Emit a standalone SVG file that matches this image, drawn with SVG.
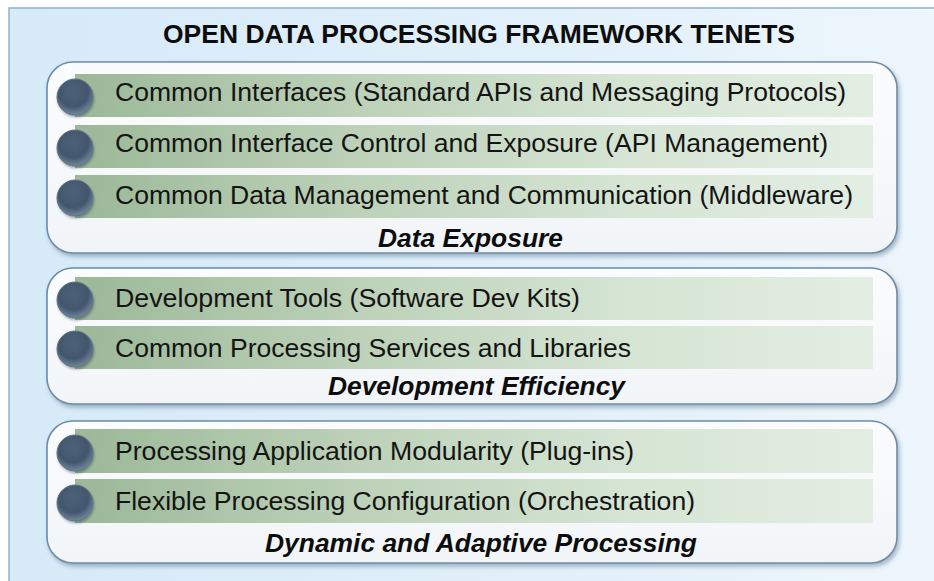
<svg xmlns="http://www.w3.org/2000/svg" width="934" height="581" viewBox="0 0 934 581">
<defs>
<linearGradient id="bg" x1="0" y1="0" x2="1" y2="0">
<stop offset="0" stop-color="#d6eaf8"/>
<stop offset="0.6" stop-color="#e2f0fa"/>
<stop offset="1" stop-color="#eef6fc"/>
</linearGradient>
<linearGradient id="bar" x1="0" y1="0" x2="1" y2="0">
<stop offset="0" stop-color="#9cb898"/>
<stop offset="0.35" stop-color="#bcd1b8"/>
<stop offset="0.7" stop-color="#d6e5d4"/>
<stop offset="1" stop-color="#e3eee3"/>
</linearGradient>
<linearGradient id="panel" x1="0" y1="0" x2="0" y2="1">
<stop offset="0" stop-color="#fbfcfd"/>
<stop offset="1" stop-color="#f2f5f8"/>
</linearGradient>
<radialGradient id="dot" cx="0.45" cy="0.35" r="0.7">
<stop offset="0" stop-color="#4d6279"/>
<stop offset="0.6" stop-color="#42576d"/>
<stop offset="1" stop-color="#7b91a5"/>
</radialGradient>
<filter id="sh" x="-5%" y="-10%" width="110%" height="125%">
<feDropShadow dx="2" dy="3" stdDeviation="2" flood-color="#4f6e8a" flood-opacity="0.45"/>
</filter>
<filter id="dsh" x="-30%" y="-30%" width="160%" height="160%">
<feDropShadow dx="1" dy="2" stdDeviation="1.2" flood-color="#2d3e50" flood-opacity="0.4"/>
</filter>
</defs>
<style>
.panel{fill:url(#panel);stroke:#6f8ca6;stroke-width:1.6;filter:url(#sh)}
.bar{fill:url(#bar)}
.dot{fill:url(#dot);stroke:#5d7287;stroke-width:1;filter:url(#dsh)}
.t{font-family:"Liberation Sans",Arial,sans-serif;font-size:25px;fill:#141414;lengthAdjust:spacingAndGlyphs}
.lbl{font-family:"Liberation Sans",Arial,sans-serif;font-size:25px;font-weight:bold;font-style:italic;fill:#0d0d0d}
.title{font-family:"Liberation Sans",Arial,sans-serif;font-size:25px;font-weight:bold;fill:#0d0d0d}
</style>
<rect x="0" y="0" width="934" height="581" fill="#ffffff"/>
<rect x="9" y="8" width="930" height="580" fill="url(#bg)" stroke="#8fb2cb" stroke-width="1.5"/>
<g id="title">
<text class="title" x="163" y="43" textLength="632" lengthAdjust="spacingAndGlyphs">OPEN DATA PROCESSING FRAMEWORK TENETS</text>
</g>
<g id="data-exposure">
<rect class="panel" x="47" y="62" width="850" height="191" rx="26"/>
<g id="row-common-interfaces">
<rect class="bar" x="75" y="74" width="798" height="43"/>
<circle class="dot" cx="75" cy="97" r="18"/>
<text class="t" x="115" y="101" textLength="731" lengthAdjust="spacingAndGlyphs">Common Interfaces (Standard APIs and Messaging Protocols)</text>
</g>
<g id="row-interface-control">
<rect class="bar" x="75" y="125" width="798" height="43"/>
<circle class="dot" cx="75" cy="148" r="18"/>
<text class="t" x="115" y="152" textLength="713" lengthAdjust="spacingAndGlyphs">Common Interface Control and Exposure (API Management)</text>
</g>
<g id="row-data-management">
<rect class="bar" x="75" y="175" width="798" height="43"/>
<circle class="dot" cx="75" cy="198" r="18"/>
<text class="t" x="115" y="204" textLength="738" lengthAdjust="spacingAndGlyphs">Common Data Management and Communication (Middleware)</text>
</g>
<text class="lbl" x="378" y="247" textLength="185" lengthAdjust="spacingAndGlyphs">Data Exposure</text>
</g>
<g id="development-efficiency">
<rect class="panel" x="47" y="268" width="850" height="136" rx="26"/>
<g id="row-dev-tools">
<rect class="bar" x="75" y="277" width="798" height="43"/>
<circle class="dot" cx="75" cy="300" r="18"/>
<text class="t" x="115" y="307" textLength="465" lengthAdjust="spacingAndGlyphs">Development Tools (Software Dev Kits)</text>
</g>
<g id="row-processing-services">
<rect class="bar" x="75" y="326" width="798" height="43"/>
<circle class="dot" cx="75" cy="349" r="18"/>
<text class="t" x="115" y="357" textLength="516" lengthAdjust="spacingAndGlyphs">Common Processing Services and Libraries</text>
</g>
<text class="lbl" x="328" y="395" textLength="297" lengthAdjust="spacingAndGlyphs">Development Efficiency</text>
</g>
<g id="dynamic-adaptive-processing">
<rect class="panel" x="47" y="421" width="850" height="142" rx="26"/>
<g id="row-modularity">
<rect class="bar" x="75" y="429" width="798" height="44"/>
<circle class="dot" cx="75" cy="453" r="18"/>
<text class="t" x="115" y="460" textLength="519" lengthAdjust="spacingAndGlyphs">Processing Application Modularity (Plug-ins)</text>
</g>
<g id="row-configuration">
<rect class="bar" x="75" y="479" width="798" height="44"/>
<circle class="dot" cx="75" cy="503" r="18"/>
<text class="t" x="115" y="510" textLength="580" lengthAdjust="spacingAndGlyphs">Flexible Processing Configuration (Orchestration)</text>
</g>
<text class="lbl" x="265" y="552" textLength="432" lengthAdjust="spacingAndGlyphs">Dynamic and Adaptive Processing</text>
</g>
</svg>
